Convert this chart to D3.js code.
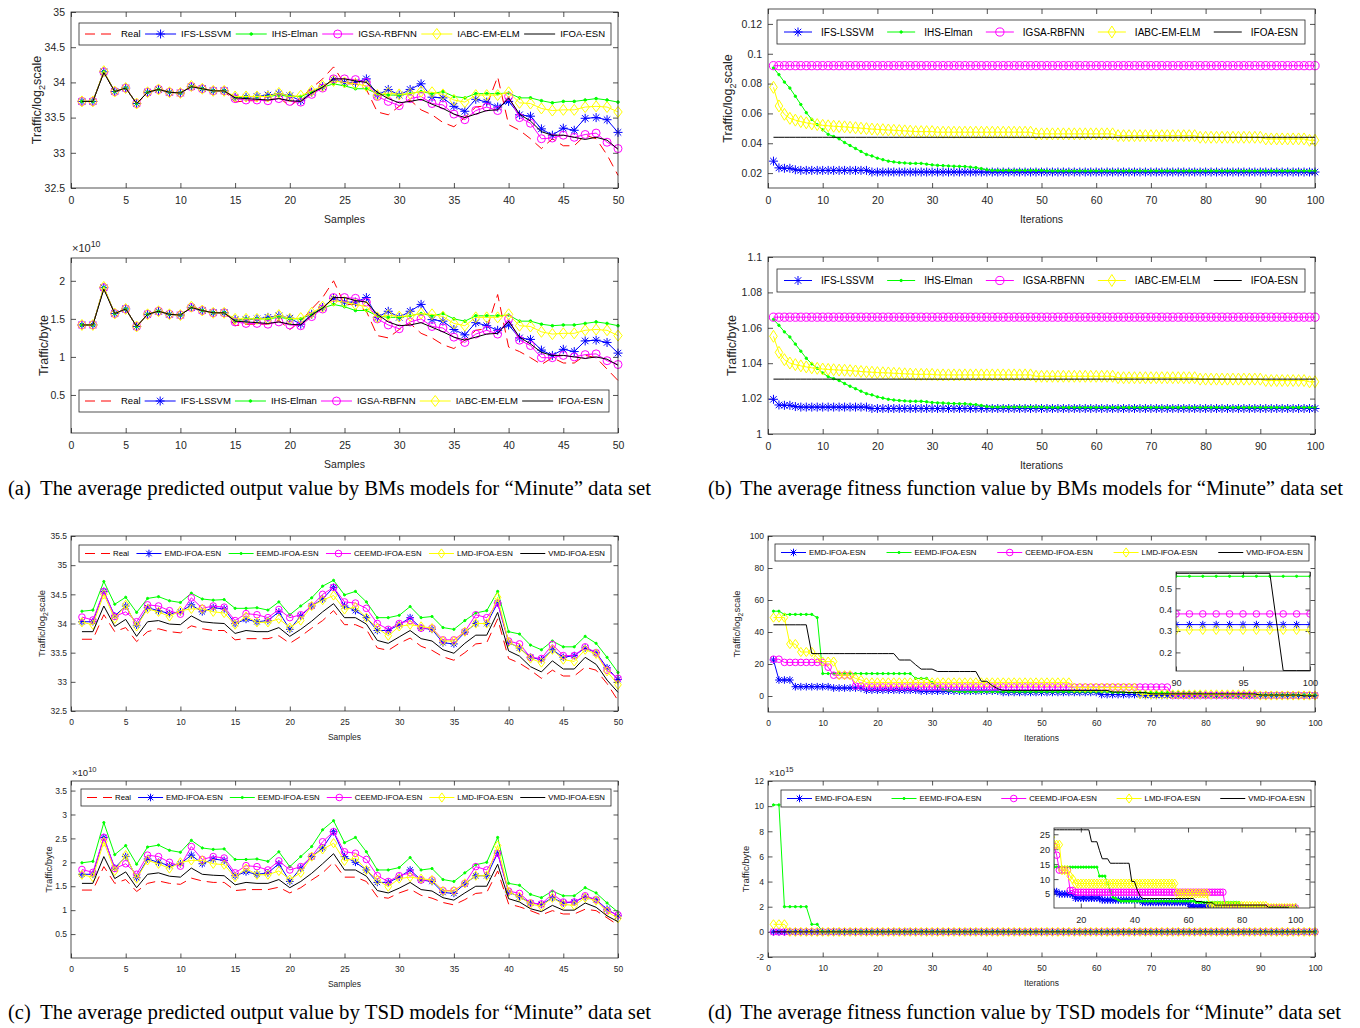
<!DOCTYPE html>
<html>
<head>
<meta charset="utf-8">
<script src="https://cdn.jsdelivr.net/npm/d3@7"></script>
<style>
  body { margin: 0; background: #fff; }
</style>
</head>
<body>
<svg id="fig" width="1360" height="1028"></svg>
<script>
// ---- data --------------------------------------------------------------
const samples = d3.range(1, 51);
const iters = d3.range(1, 101);

const ticksSamples = [0, 5, 10, 15, 20, 25, 30, 35, 40, 45, 50];
const ticksIter = [0, 10, 20, 30, 40, 50, 60, 70, 80, 90, 100];
const ticksLogA = [32.5, 33, 33.5, 34, 34.5, 35];
const ticksByteA = [0.5, 1, 1.5, 2];
const ticksFitLog = [0.02, 0.04, 0.06, 0.08, 0.1, 0.12];
const ticksFitByte = [1, 1.02, 1.04, 1.06, 1.08, 1.1];
const ticksLogC = [32.5, 33, 33.5, 34, 34.5, 35, 35.5];
const ticksByteC = [0.5, 1, 1.5, 2, 2.5, 3, 3.5];
const ticksFitLogD = [0, 20, 40, 60, 80, 100];
const ticksFitByteD = [-2, 0, 2, 4, 6, 8, 10, 12];
const ticksInsetX1 = [90, 95, 100];
const ticksInsetY1 = [0.2, 0.3, 0.4, 0.5];
const ticksInsetX2 = [20, 40, 60, 80, 100];
const ticksInsetY2 = [5, 10, 15, 20, 25];

const bmNames = ['Real', 'IFS-LSSVM', 'IHS-Elman', 'IGSA-RBFNN', 'IABC-EM-ELM', 'IFOA-ESN'];
const tsdNames = ['Real', 'EMD-IFOA-ESN', 'EEMD-IFOA-ESN', 'CEEMD-IFOA-ESN', 'LMD-IFOA-ESN', 'VMD-IFOA-ESN'];

// (a) predicted output, log2 scale
const Real_log = [33.73,33.73,34.15,33.86,33.93,33.69,33.86,33.91,33.86,33.84,33.96,33.91,33.88,33.88,33.72,33.74,33.74,33.74,33.79,33.66,33.78,33.92,34.05,34.22,33.98,33.98,33.90,33.58,33.54,33.66,33.75,33.61,33.54,33.43,33.37,33.50,33.65,33.67,34.08,33.40,33.32,33.20,33.06,33.20,33.10,33.10,33.25,33.20,32.97,32.68];
const IFS_log = [33.73,33.73,34.15,33.87,33.92,33.70,33.86,33.90,33.86,33.85,33.94,33.91,33.88,33.88,33.79,33.79,33.80,33.82,33.84,33.81,33.74,33.86,33.94,34.04,34.00,34.00,34.05,33.82,33.90,33.82,33.90,33.98,33.79,33.78,33.66,33.59,33.76,33.72,33.65,33.73,33.54,33.52,33.34,33.25,33.35,33.32,33.49,33.50,33.47,33.29];
const IHS_log = [33.73,33.73,34.15,33.87,33.92,33.70,33.86,33.90,33.86,33.85,33.94,33.91,33.88,33.88,33.78,33.80,33.80,33.80,33.82,33.80,33.80,33.86,33.93,33.98,33.95,33.91,33.91,33.84,33.82,33.82,33.84,33.87,33.84,33.87,33.80,33.78,33.84,33.84,33.84,33.85,33.78,33.78,33.74,33.71,33.73,33.73,33.75,33.77,33.75,33.72];
const IGSA_log = [33.73,33.73,34.15,33.87,33.92,33.70,33.86,33.90,33.86,33.85,33.94,33.91,33.88,33.88,33.77,33.75,33.75,33.74,33.77,33.73,33.72,33.83,33.92,34.05,34.05,34.04,34.00,33.80,33.73,33.67,33.77,33.80,33.70,33.68,33.55,33.47,33.60,33.65,33.60,33.80,33.50,33.42,33.20,33.21,33.25,33.22,33.26,33.28,33.15,33.06];
const IABC_log = [33.73,33.73,34.16,33.87,33.92,33.70,33.86,33.90,33.86,33.85,33.95,33.91,33.88,33.88,33.80,33.80,33.80,33.80,33.85,33.80,33.81,33.88,33.95,34.02,34.00,33.98,33.95,33.82,33.85,33.83,33.84,33.87,33.86,33.83,33.75,33.72,33.82,33.82,33.82,33.86,33.71,33.70,33.63,33.60,33.61,33.61,33.65,33.66,33.65,33.58];
const IFOA_log = [33.73,33.73,34.14,33.87,33.92,33.70,33.86,33.90,33.86,33.85,33.94,33.91,33.88,33.88,33.78,33.77,33.76,33.75,33.77,33.74,33.73,33.85,33.93,34.05,34.05,34.02,34.00,33.86,33.77,33.71,33.73,33.76,33.69,33.63,33.55,33.50,33.55,33.60,33.61,33.78,33.55,33.45,33.30,33.25,33.25,33.22,33.19,33.22,33.18,33.05];

// (a) predicted output, bytes (x 1e10)
const Real_byte = [1.42,1.42,1.91,1.56,1.64,1.39,1.56,1.61,1.56,1.54,1.67,1.61,1.58,1.58,1.41,1.43,1.43,1.43,1.48,1.36,1.47,1.63,1.78,2.00,1.69,1.69,1.60,1.28,1.25,1.36,1.44,1.31,1.25,1.16,1.11,1.22,1.35,1.37,1.82,1.13,1.07,0.99,0.90,0.99,0.92,0.92,1.02,0.99,0.84,0.69];
const IFS_byte = [1.42,1.42,1.91,1.57,1.63,1.40,1.56,1.60,1.56,1.55,1.65,1.61,1.58,1.58,1.49,1.49,1.50,1.52,1.54,1.51,1.43,1.56,1.65,1.77,1.72,1.72,1.78,1.52,1.60,1.52,1.60,1.69,1.49,1.47,1.36,1.29,1.45,1.41,1.35,1.42,1.25,1.23,1.09,1.02,1.10,1.07,1.21,1.22,1.19,1.05];
const IHS_byte = [1.42,1.42,1.91,1.57,1.63,1.40,1.56,1.60,1.56,1.55,1.65,1.61,1.58,1.58,1.47,1.50,1.50,1.50,1.52,1.50,1.50,1.56,1.64,1.69,1.66,1.61,1.61,1.54,1.52,1.52,1.54,1.57,1.54,1.57,1.50,1.47,1.54,1.54,1.54,1.55,1.47,1.47,1.43,1.41,1.42,1.42,1.44,1.46,1.44,1.41];
const IGSA_byte = [1.42,1.42,1.91,1.57,1.63,1.40,1.56,1.60,1.56,1.55,1.65,1.61,1.58,1.58,1.46,1.44,1.44,1.43,1.46,1.42,1.41,1.53,1.63,1.78,1.78,1.77,1.72,1.50,1.42,1.37,1.46,1.50,1.40,1.38,1.26,1.19,1.30,1.35,1.30,1.50,1.22,1.15,0.99,0.99,1.02,1.00,1.03,1.04,0.95,0.90];
const IABC_byte = [1.42,1.42,1.92,1.57,1.63,1.40,1.56,1.60,1.56,1.55,1.66,1.61,1.58,1.58,1.50,1.50,1.50,1.50,1.55,1.50,1.51,1.58,1.66,1.74,1.72,1.69,1.66,1.52,1.55,1.53,1.54,1.57,1.56,1.53,1.44,1.41,1.52,1.52,1.52,1.56,1.41,1.40,1.33,1.30,1.31,1.31,1.35,1.36,1.35,1.28];
const IFOA_byte = [1.42,1.42,1.89,1.57,1.63,1.40,1.56,1.60,1.56,1.55,1.65,1.61,1.58,1.58,1.47,1.46,1.45,1.44,1.46,1.43,1.42,1.55,1.64,1.78,1.78,1.74,1.72,1.56,1.46,1.41,1.42,1.45,1.39,1.33,1.26,1.22,1.26,1.30,1.31,1.47,1.26,1.17,1.06,1.02,1.02,1.00,0.98,1.00,0.97,0.89];

// (b) fitness, log2 scale
const IFS_fitLog = [
  0.028,0.0235,0.0232,0.0232,0.0222,0.0218,0.0218,0.0218,0.0218,0.0218,
  0.0218,0.0218,0.0218,0.0218,0.0218,0.0218,0.0218,0.0218,0.0207,0.0207,
  0.0207,0.0207,0.0207,0.0207,0.0207,0.0207,0.0207,0.0207,0.0207,0.0207,
  0.0207,0.0207,0.0207,0.0207,0.0207,0.0207,0.0207,0.0207,0.0207,0.0207,
  0.0207,0.0207,0.0207,0.0207,0.0207,0.0207,0.0207,0.0207,0.0207,0.0207,
  0.0207,0.0207,0.0207,0.0207,0.0207,0.0207,0.0207,0.0207,0.0207,0.0207,
  0.0207,0.0207,0.0207,0.0207,0.0207,0.0207,0.0207,0.0207,0.0207,0.0207,
  0.0207,0.0207,0.0207,0.0207,0.0207,0.0207,0.0207,0.0207,0.0207,0.0207,
  0.0207,0.0207,0.0207,0.0207,0.0207,0.0207,0.0207,0.0207,0.0207,0.0207,
  0.0207,0.0207,0.0207,0.0207,0.0207,0.0207,0.0207,0.0207,0.0207,0.0207];
const IHS_fitLog = [
  0.0905,0.086,0.081,0.077,0.0715,0.066,0.0605,0.056,0.0525,0.049,
  0.046,0.0445,0.043,0.0405,0.0385,0.0365,0.0345,0.0325,0.0315,0.03,
  0.029,0.028,0.0275,0.027,0.0268,0.0265,0.0265,0.0265,0.026,0.0255,
  0.0252,0.025,0.0248,0.0246,0.0245,0.0244,0.024,0.0237,0.023,0.0222,
  0.0218,0.0218,0.0218,0.0218,0.0218,0.0218,0.0218,0.0218,0.0218,0.0218,
  0.0215,0.0215,0.0215,0.0215,0.0215,0.0215,0.0215,0.0215,0.0215,0.0215,
  0.0215,0.0215,0.0215,0.0215,0.0215,0.0215,0.0215,0.0215,0.0215,0.0215,
  0.0215,0.0215,0.0215,0.0215,0.0215,0.0215,0.0215,0.0215,0.0215,0.0215,
  0.0215,0.0215,0.0215,0.0215,0.0215,0.0215,0.0215,0.0215,0.0215,0.0215,
  0.0215,0.0215,0.0215,0.0215,0.0215,0.0215,0.0215,0.0215,0.0215,0.0215];
const IGSA_fitLog = [
  0.092,0.092,0.092,0.092,0.092,0.092,0.092,0.092,0.092,0.092,
  0.092,0.092,0.092,0.092,0.092,0.092,0.092,0.092,0.092,0.092,
  0.092,0.092,0.092,0.092,0.092,0.092,0.092,0.092,0.092,0.092,
  0.092,0.092,0.092,0.092,0.092,0.092,0.092,0.092,0.092,0.092,
  0.092,0.092,0.092,0.092,0.092,0.092,0.092,0.092,0.092,0.092,
  0.092,0.092,0.092,0.092,0.092,0.092,0.092,0.092,0.092,0.092,
  0.092,0.092,0.092,0.092,0.092,0.092,0.092,0.092,0.092,0.092,
  0.092,0.092,0.092,0.092,0.092,0.092,0.092,0.092,0.092,0.092,
  0.092,0.092,0.092,0.092,0.092,0.092,0.092,0.092,0.092,0.092,
  0.092,0.092,0.092,0.092,0.092,0.092,0.092,0.092,0.092,0.092];
const IABC_fitLog = [
  0.0775,0.065,0.0594,0.0567,0.0555,0.0545,0.0537,0.053,0.0525,0.052,
  0.0517,0.0514,0.0512,0.051,0.0507,0.0504,0.0501,0.0498,0.0495,0.0493,
  0.0491,0.0489,0.0487,0.0485,0.0483,0.0481,0.0478,0.0478,0.0478,0.0478,
  0.0474,0.0474,0.0474,0.0474,0.0474,0.0474,0.0474,0.0474,0.0474,0.0474,
  0.0474,0.0474,0.0474,0.0474,0.0474,0.0474,0.0474,0.0474,0.0463,0.0463,
  0.0463,0.0463,0.0463,0.0463,0.0463,0.0463,0.0463,0.0463,0.0463,0.0463,
  0.0463,0.0463,0.0463,0.0451,0.0451,0.0451,0.0451,0.0451,0.0451,0.0451,
  0.0451,0.0451,0.0451,0.0451,0.0451,0.0451,0.0451,0.0451,0.044,0.044,
  0.044,0.044,0.044,0.044,0.044,0.044,0.044,0.044,0.044,0.044,
  0.0429,0.0429,0.0429,0.0429,0.0429,0.0429,0.0429,0.0429,0.042,0.042];
const IFOA_fitLog = [
  0.044,0.044,0.044,0.044,0.044,0.044,0.044,0.044,0.044,0.044,
  0.044,0.044,0.044,0.044,0.044,0.044,0.044,0.044,0.044,0.044,
  0.044,0.044,0.044,0.044,0.044,0.044,0.044,0.044,0.044,0.044,
  0.044,0.044,0.044,0.044,0.044,0.044,0.044,0.044,0.044,0.044,
  0.044,0.044,0.044,0.044,0.044,0.044,0.044,0.044,0.044,0.044,
  0.044,0.044,0.044,0.044,0.044,0.044,0.044,0.044,0.044,0.044,
  0.044,0.044,0.044,0.044,0.044,0.044,0.044,0.044,0.044,0.044,
  0.044,0.044,0.044,0.044,0.044,0.044,0.044,0.044,0.044,0.044,
  0.044,0.044,0.044,0.044,0.044,0.044,0.044,0.044,0.044,0.044,
  0.044,0.044,0.044,0.044,0.044,0.044,0.044,0.044,0.044,0.044];

// (b) fitness, bytes
const IFS_fitByte = [
  1.0196,1.0164,1.0162,1.0162,1.0155,1.0152,1.0152,1.0152,1.0152,1.0152,
  1.0152,1.0152,1.0152,1.0152,1.0152,1.0152,1.0152,1.0152,1.0144,1.0144,
  1.0144,1.0144,1.0144,1.0144,1.0144,1.0144,1.0144,1.0144,1.0144,1.0144,
  1.0144,1.0144,1.0144,1.0144,1.0144,1.0144,1.0144,1.0144,1.0144,1.0144,
  1.0144,1.0144,1.0144,1.0144,1.0144,1.0144,1.0144,1.0144,1.0144,1.0144,
  1.0144,1.0144,1.0144,1.0144,1.0144,1.0144,1.0144,1.0144,1.0144,1.0144,
  1.0144,1.0144,1.0144,1.0144,1.0144,1.0144,1.0144,1.0144,1.0144,1.0144,
  1.0144,1.0144,1.0144,1.0144,1.0144,1.0144,1.0144,1.0144,1.0144,1.0144,
  1.0144,1.0144,1.0144,1.0144,1.0144,1.0144,1.0144,1.0144,1.0144,1.0144,
  1.0144,1.0144,1.0144,1.0144,1.0144,1.0144,1.0144,1.0144,1.0144,1.0144];
const IHS_fitByte = [
  1.0647,1.0614,1.0577,1.0548,1.0508,1.0468,1.0428,1.0396,1.0371,1.0345,
  1.0324,1.0313,1.0302,1.0285,1.027,1.0256,1.0242,1.0228,1.0221,1.021,
  1.0203,1.0196,1.0192,1.0189,1.0187,1.0185,1.0185,1.0185,1.0182,1.0178,
  1.0176,1.0175,1.0173,1.0172,1.0171,1.0171,1.0168,1.0166,1.0161,1.0155,
  1.0152,1.0152,1.0152,1.0152,1.0152,1.0152,1.0152,1.0152,1.0152,1.0152,
  1.015,1.015,1.015,1.015,1.015,1.015,1.015,1.015,1.015,1.015,
  1.015,1.015,1.015,1.015,1.015,1.015,1.015,1.015,1.015,1.015,
  1.015,1.015,1.015,1.015,1.015,1.015,1.015,1.015,1.015,1.015,
  1.015,1.015,1.015,1.015,1.015,1.015,1.015,1.015,1.015,1.015,
  1.015,1.015,1.015,1.015,1.015,1.015,1.015,1.015,1.015,1.015];
const IGSA_fitByte = [
  1.066,1.066,1.066,1.066,1.066,1.066,1.066,1.066,1.066,1.066,
  1.066,1.066,1.066,1.066,1.066,1.066,1.066,1.066,1.066,1.066,
  1.066,1.066,1.066,1.066,1.066,1.066,1.066,1.066,1.066,1.066,
  1.066,1.066,1.066,1.066,1.066,1.066,1.066,1.066,1.066,1.066,
  1.066,1.066,1.066,1.066,1.066,1.066,1.066,1.066,1.066,1.066,
  1.066,1.066,1.066,1.066,1.066,1.066,1.066,1.066,1.066,1.066,
  1.066,1.066,1.066,1.066,1.066,1.066,1.066,1.066,1.066,1.066,
  1.066,1.066,1.066,1.066,1.066,1.066,1.066,1.066,1.066,1.066,
  1.066,1.066,1.066,1.066,1.066,1.066,1.066,1.066,1.066,1.066,
  1.066,1.066,1.066,1.066,1.066,1.066,1.066,1.066,1.066,1.066];
const IABC_fitByte = [
  1.0552,1.0461,1.042,1.0401,1.0392,1.0385,1.0379,1.0374,1.0371,1.0367,
  1.0365,1.0363,1.0361,1.036,1.0358,1.0356,1.0353,1.0351,1.0349,1.0347,
  1.0346,1.0345,1.0343,1.0342,1.034,1.0339,1.0337,1.0337,1.0337,1.0337,
  1.0334,1.0334,1.0334,1.0334,1.0334,1.0334,1.0334,1.0334,1.0334,1.0334,
  1.0334,1.0334,1.0334,1.0334,1.0334,1.0334,1.0334,1.0334,1.0326,1.0326,
  1.0326,1.0326,1.0326,1.0326,1.0326,1.0326,1.0326,1.0326,1.0326,1.0326,
  1.0326,1.0326,1.0326,1.0318,1.0318,1.0318,1.0318,1.0318,1.0318,1.0318,
  1.0318,1.0318,1.0318,1.0318,1.0318,1.0318,1.0318,1.0318,1.031,1.031,
  1.031,1.031,1.031,1.031,1.031,1.031,1.031,1.031,1.031,1.031,
  1.0302,1.0302,1.0302,1.0302,1.0302,1.0302,1.0302,1.0302,1.0295,1.0295];
const IFOA_fitByte = [
  1.031,1.031,1.031,1.031,1.031,1.031,1.031,1.031,1.031,1.031,
  1.031,1.031,1.031,1.031,1.031,1.031,1.031,1.031,1.031,1.031,
  1.031,1.031,1.031,1.031,1.031,1.031,1.031,1.031,1.031,1.031,
  1.031,1.031,1.031,1.031,1.031,1.031,1.031,1.031,1.031,1.031,
  1.031,1.031,1.031,1.031,1.031,1.031,1.031,1.031,1.031,1.031,
  1.031,1.031,1.031,1.031,1.031,1.031,1.031,1.031,1.031,1.031,
  1.031,1.031,1.031,1.031,1.031,1.031,1.031,1.031,1.031,1.031,
  1.031,1.031,1.031,1.031,1.031,1.031,1.031,1.031,1.031,1.031,
  1.031,1.031,1.031,1.031,1.031,1.031,1.031,1.031,1.031,1.031,
  1.031,1.031,1.031,1.031,1.031,1.031,1.031,1.031,1.031,1.031];

// (c) predicted output of decomposition models, log2 scale
const EMD_log = [34.03,34.03,34.55,34.13,34.30,33.97,34.27,34.22,34.17,34.20,34.32,34.20,34.27,34.25,34.00,34.07,34.03,34.05,34.20,33.90,34.13,34.30,34.42,34.62,34.30,34.22,34.10,33.88,33.88,33.98,34.10,33.92,33.90,33.67,33.65,33.85,34.00,34.00,34.35,33.68,33.58,33.42,33.38,33.55,33.42,33.45,33.58,33.50,33.24,33.04];
const EEMD_log = [34.21,34.23,34.72,34.33,34.45,34.19,34.43,34.46,34.39,34.36,34.52,34.42,34.40,34.41,34.26,34.26,34.27,34.23,34.37,34.15,34.30,34.44,34.64,34.74,34.49,34.55,34.37,34.10,34.10,34.14,34.29,34.10,34.12,33.93,33.90,34.05,34.18,34.22,34.55,33.86,33.82,33.63,33.55,33.70,33.60,33.60,33.78,33.66,33.42,33.16];
const CEEMD_log = [34.11,34.06,34.55,34.12,34.20,34.03,34.32,34.30,34.22,34.16,34.44,34.26,34.30,34.28,34.05,34.17,34.15,34.10,34.24,34.10,34.15,34.30,34.50,34.62,34.37,34.35,34.26,34.00,33.90,34.00,34.05,33.92,33.92,33.72,33.72,33.86,34.15,34.10,34.35,33.70,33.65,33.42,33.40,33.64,33.45,33.45,33.60,33.50,33.20,33.06];
const LMD_log = [34.02,33.98,34.50,34.08,34.32,33.95,34.25,34.20,34.12,34.22,34.25,34.25,34.20,34.18,33.98,34.12,34.02,34.02,34.08,33.93,34.05,34.30,34.40,34.48,34.24,34.28,34.10,33.92,33.79,33.95,33.98,33.95,33.92,33.70,33.70,33.86,34.00,34.00,34.45,33.68,33.58,33.40,33.33,33.55,33.38,33.35,33.55,33.48,33.18,32.95];
const VMD_log = [33.86,33.86,34.30,33.95,34.07,33.78,34.03,34.05,33.99,33.98,34.13,34.03,34.01,34.00,33.83,33.88,33.86,33.86,33.93,33.78,33.90,34.04,34.20,34.34,34.10,34.10,33.99,33.71,33.66,33.77,33.88,33.74,33.70,33.55,33.49,33.66,33.80,33.80,34.19,33.53,33.44,33.26,33.17,33.36,33.22,33.22,33.42,33.30,33.03,32.82];

// (c) predicted output of decomposition models, bytes (x 1e10)
const EMD_byte = [1.75,1.75,2.52,1.88,2.12,1.68,2.07,2.00,1.93,1.97,2.15,1.97,2.07,2.04,1.72,1.80,1.75,1.78,1.97,1.60,1.88,2.12,2.30,2.64,2.12,2.00,1.84,1.58,1.58,1.69,1.84,1.63,1.60,1.37,1.35,1.55,1.72,1.72,2.19,1.38,1.28,1.15,1.12,1.26,1.15,1.17,1.28,1.22,1.02,0.88];
const EEMD_byte = [1.99,2.02,2.83,2.16,2.35,1.96,2.32,2.36,2.25,2.21,2.46,2.30,2.27,2.28,2.06,2.06,2.07,2.02,2.22,1.91,2.12,2.33,2.68,2.87,2.41,2.52,2.22,1.84,1.84,1.89,2.10,1.84,1.87,1.64,1.60,1.78,1.95,2.00,2.52,1.56,1.52,1.33,1.26,1.40,1.30,1.30,1.47,1.36,1.15,0.96];
const CEEMD_byte = [1.85,1.79,2.52,1.87,1.97,1.75,2.15,2.12,2.00,1.92,2.33,2.06,2.12,2.09,1.78,1.93,1.91,1.84,2.03,1.84,1.91,2.12,2.43,2.64,2.22,2.19,2.06,1.72,1.60,1.72,1.78,1.63,1.63,1.41,1.41,1.56,1.91,1.84,2.19,1.40,1.35,1.15,1.13,1.34,1.17,1.17,1.30,1.22,0.99,0.90];
const LMD_byte = [1.74,1.69,2.43,1.82,2.15,1.66,2.04,1.97,1.87,2.00,2.04,2.04,1.97,1.95,1.69,1.87,1.74,1.74,1.82,1.64,1.78,2.12,2.27,2.40,2.03,2.09,1.84,1.63,1.49,1.66,1.69,1.66,1.63,1.40,1.40,1.56,1.72,1.72,2.35,1.38,1.28,1.13,1.08,1.26,1.12,1.10,1.26,1.20,0.97,0.83];
const VMD_byte = [1.56,1.56,2.12,1.66,1.80,1.47,1.75,1.78,1.71,1.69,1.88,1.75,1.73,1.72,1.53,1.58,1.56,1.56,1.64,1.47,1.60,1.77,1.97,2.18,1.84,1.84,1.71,1.41,1.36,1.46,1.58,1.43,1.40,1.26,1.21,1.36,1.50,1.50,1.96,1.24,1.17,1.03,0.97,1.10,1.00,1.00,1.15,1.06,0.88,0.76];

// (d) fitness of decomposition models, log2 scale (also shown in the (d) byte inset)
const EMD_fitLog = [
  22.5,10,10,10,5.8,5.8,5.8,5.8,5.8,5.8,
  5.8,5,5,5,5,5,4.8,3.6,3.6,3.6,
  3.6,3.6,3.6,3.6,3.6,3.6,3.6,3,3,3,
  3,3,3,3,3,3,3,3,3,3,
  3,3,2.2,2.2,2.2,2.2,2.2,2.2,2.2,2.2,
  2.2,2.2,2.2,2.2,2.2,2.2,2.2,2.2,2.2,2.2,
  0.9,0.9,0.9,0.9,0.9,0.9,0.9,0.9,0.33,0.33,
  0.33,0.33,0.33,0.33,0.33,0.33,0.33,0.33,0.33,0.33,
  0.33,0.33,0.33,0.33,0.33,0.33,0.33,0.33,0.33,0.33,
  0.33,0.33,0.33,0.33,0.33,0.33,0.33,0.33,0.33,0.33];
const EEMD_fitLog = [
  53,53,51,51,51,51,51,51,49,14,
  14,14,14,14,14,14,14,14,14,14,
  14,14,14,14,14,14,11,11,11,8.5,
  6,3.9,3.5,3,2.6,2.6,2.6,2.6,2.6,2.6,
  2.6,2.6,2.6,2.6,2.6,2.6,2.6,2.6,2.6,2.6,
  2.6,2.6,2.6,2.6,2.6,2.6,2.6,2.6,2.6,2.6,
  2.6,2.6,2.2,2.2,2.2,2.2,2.2,2.2,2.2,2.2,
  2.2,2.2,2.2,2.2,2.2,2.2,2.2,2.2,2.2,0.556,
  0.556,0.556,0.556,0.556,0.556,0.556,0.556,0.556,0.556,0.556,
  0.556,0.556,0.556,0.556,0.556,0.556,0.556,0.556,0.556,0.556];
const CEEMD_fitLog = [
  23,23,21,21,21,21,21,21,21,21,
  18,13,13,13,13,6.2,6.2,5.6,5.6,5.6,
  5.6,5.6,5.6,5.6,5.6,5.6,5.6,5.6,5.6,5.6,
  5.6,5.6,5.6,5.6,5.6,5.6,5.6,5.6,5.6,5.6,
  5.6,5.6,5.6,5.6,5.6,5.6,5.6,5.6,5.6,5.6,
  5.6,5.6,5.6,5.6,5.6,5.6,5.6,5.6,5.6,5.6,
  5.6,5.6,5.6,5.6,5.6,5.6,5.6,5.6,5.6,5.6,
  5.6,5.6,5.6,0.38,0.38,0.38,0.38,0.38,0.38,0.38,
  0.38,0.38,0.38,0.38,0.38,0.38,0.38,0.38,0.38,0.38,
  0.38,0.38,0.38,0.38,0.38,0.38,0.38,0.38,0.38,0.38];
const LMD_fitLog = [
  49,49,49,32.5,32.5,27.5,27.5,27.5,24,21.5,
  21.5,21.5,13,13,13,11,10,8.5,8.5,8.5,
  8.5,8.5,8.5,8.5,8.5,8.5,8.5,8.5,8.5,8.5,
  8.5,8.5,8.5,8.5,8.5,8.5,8.5,8.5,8.5,8.5,
  8.5,8.5,8.5,8.5,8.5,8.5,8.5,8.5,8.5,8.5,
  8.5,8.5,8.5,8.5,8.5,5.2,5.2,5.2,5.2,5.2,
  5.2,5.2,5.2,5.2,5.2,5.2,5.2,1,1,1,
  1,1,1,1,1,1,1,1,1,1,
  1,1,1,1,1,1,1,1,1,0.305,
  0.305,0.305,0.305,0.305,0.305,0.305,0.305,0.305,0.305,0.305];
const VMD_fitLog = [
  44.5,44.5,44.5,44.5,44.5,44.5,44.5,26.5,26.5,26.5,
  26.5,26.5,26.5,26.5,26.5,26.5,26.5,26.5,26.5,26.5,
  26.5,26.5,26.5,22.5,22.5,22.5,19.5,16.8,16.8,16.8,
  15.3,15.3,15.3,15.3,15.3,15.3,15.3,15.3,9.2,9.2,
  6.5,4.5,3.5,3.5,3.5,3.5,3.5,3.5,3.5,3.5,
  3.5,3.5,3.5,3.5,3.5,3.5,3.5,3.5,3.5,3.5,
  3.5,3.5,2.5,2.5,2.5,2.1,2.1,2.1,2.1,1.3,
  1.3,1.3,1.3,1.3,1.3,1.3,1.3,1.3,1.3,1.3,
  1.3,1.3,1.3,1.3,1.3,1.3,1.3,1.3,1.3,0.57,
  0.57,0.57,0.57,0.57,0.57,0.57,0.57,0.115,0.115,0.115];

// (d) fitness of decomposition models, bytes (x 1e15)
const EMD_fitByte = [
  0,0,0,0,0,0,0,0,0,0, 0,0,0,0,0,0,0,0,0,0, 0,0,0,0,0,0,0,0,0,0, 0,0,0,0,0,0,0,0,0,0, 0,0,0,0,0,0,0,0,0,0,
  0,0,0,0,0,0,0,0,0,0, 0,0,0,0,0,0,0,0,0,0, 0,0,0,0,0,0,0,0,0,0, 0,0,0,0,0,0,0,0,0,0, 0,0,0,0,0,0,0,0,0,0];
const EEMD_fitByte = [
  10.1,10.1,2,2,2,2,2,0.6,0.6,0, 0,0,0,0,0,0,0,0,0,0, 0,0,0,0,0,0,0,0,0,0, 0,0,0,0,0,0,0,0,0,0, 0,0,0,0,0,0,0,0,0,0,
  0,0,0,0,0,0,0,0,0,0, 0,0,0,0,0,0,0,0,0,0, 0,0,0,0,0,0,0,0,0,0, 0,0,0,0,0,0,0,0,0,0, 0,0,0,0,0,0,0,0,0,0];
const CEEMD_fitByte = [
  0,0,0,0,0,0,0,0,0,0, 0,0,0,0,0,0,0,0,0,0, 0,0,0,0,0,0,0,0,0,0, 0,0,0,0,0,0,0,0,0,0, 0,0,0,0,0,0,0,0,0,0,
  0,0,0,0,0,0,0,0,0,0, 0,0,0,0,0,0,0,0,0,0, 0,0,0,0,0,0,0,0,0,0, 0,0,0,0,0,0,0,0,0,0, 0,0,0,0,0,0,0,0,0,0];
const LMD_fitByte = [
  0.6,0.6,0.6,0,0,0,0,0,0,0, 0,0,0,0,0,0,0,0,0,0, 0,0,0,0,0,0,0,0,0,0, 0,0,0,0,0,0,0,0,0,0, 0,0,0,0,0,0,0,0,0,0,
  0,0,0,0,0,0,0,0,0,0, 0,0,0,0,0,0,0,0,0,0, 0,0,0,0,0,0,0,0,0,0, 0,0,0,0,0,0,0,0,0,0, 0,0,0,0,0,0,0,0,0,0];
const VMD_fitByte = [
  0,0,0,0,0,0,0,0,0,0, 0,0,0,0,0,0,0,0,0,0, 0,0,0,0,0,0,0,0,0,0, 0,0,0,0,0,0,0,0,0,0, 0,0,0,0,0,0,0,0,0,0,
  0,0,0,0,0,0,0,0,0,0, 0,0,0,0,0,0,0,0,0,0, 0,0,0,0,0,0,0,0,0,0, 0,0,0,0,0,0,0,0,0,0, 0,0,0,0,0,0,0,0,0,0];

// ---- drawing -----------------------------------------------------------
const FONT = '"Liberation Sans", Arial, Helvetica, sans-serif';
const AX = '#262626';
const svg = d3.select('#fig');
const defs = svg.append('defs');
let clipCount = 0;

const look = [
  { color: '#ff0000', dash: '10,6', marker: null },
  { color: '#0000ff', marker: 'star' },
  { color: '#00ff00', marker: 'dot' },
  { color: '#ff00ff', marker: 'circle' },
  { color: '#ffff00', marker: 'diamond' },
  { color: '#000000', marker: null }
];

function withLook(names, arrays, offset) {
  return arrays.map((v, i) => Object.assign({ name: names[i + offset], values: v }, look[i + offset]));
}

function shape(type, sz) {
  if (type === 'star') {
    const s = sz.star, k = s * 0.72;
    return `M${-s},0L${s},0M0,${-s}L0,${s}M${-k},${-k}L${k},${k}M${-k},${k}L${k},${-k}`;
  }
  if (type === 'diamond') {
    return `M0,${-sz.dh}L${sz.dw},0L0,${sz.dh}L${-sz.dw},0Z`;
  }
  const r = type === 'dot' ? sz.dot : sz.r;
  return `M${r},0A${r},${r} 0 1,1 ${-r},0A${r},${r} 0 1,1 ${r},0Z`;
}

function markerSel(g, s, pts, sz) {
  g.append('g').selectAll('path').data(pts).join('path')
    .attr('transform', d => `translate(${d[0]},${d[1]})`)
    .attr('d', shape(s.marker, sz))
    .attr('fill', s.marker === 'dot' ? s.color : 'none')
    .attr('stroke', s.color)
    .attr('stroke-width', 1);
}

function drawPanel(p) {
  const g = svg.append('g');
  const x = d3.scaleLinear().domain(p.xDomain).range([p.left, p.right]);
  const y = d3.scaleLinear().domain(p.yDomain).range([p.bottom, p.top]);
  const w = p.right - p.left, h = p.bottom - p.top;

  g.append('rect').attr('x', p.left).attr('y', p.top).attr('width', w).attr('height', h).attr('fill', '#fff');

  const tl = p.tickLen;
  const fmt = d => String(d);
  const axes = [
    g.append('g').attr('transform', `translate(0,${p.bottom})`)
      .call(d3.axisBottom(x).tickValues(p.xTicks).tickSizeInner(-tl).tickSizeOuter(0).tickPadding(p.xPad).tickFormat(fmt)),
    g.append('g').attr('transform', `translate(0,${p.top})`)
      .call(d3.axisTop(x).tickValues(p.xTicks).tickSizeInner(-tl).tickSizeOuter(0).tickFormat('')),
    g.append('g').attr('transform', `translate(${p.left},0)`)
      .call(d3.axisLeft(y).tickValues(p.yTicks).tickSizeInner(-tl).tickSizeOuter(0).tickPadding(p.yPad).tickFormat(fmt)),
    g.append('g').attr('transform', `translate(${p.right},0)`)
      .call(d3.axisRight(y).tickValues(p.yTicks).tickSizeInner(-tl).tickSizeOuter(0).tickFormat(''))
  ];
  axes.forEach(a => {
    a.attr('font-family', FONT).attr('font-size', p.fs);
    a.select('.domain').remove();
    a.selectAll('.tick line').attr('stroke', AX).attr('stroke-width', 0.8);
    a.selectAll('.tick text').attr('fill', AX);
  });

  const sg = g.append('g');
  if (p.clip) {
    const id = 'clip' + (clipCount++);
    defs.append('clipPath').attr('id', id).append('rect')
      .attr('x', p.left).attr('y', p.top).attr('width', w).attr('height', h);
    sg.attr('clip-path', `url(#${id})`);
  }
  const line = d3.line().x((d, i) => x(p.xs[i])).y(d => y(d));
  p.series.forEach(s => {
    sg.append('path').datum(s.values).attr('d', line)
      .attr('fill', 'none').attr('stroke', s.color).attr('stroke-width', 1)
      .attr('stroke-dasharray', s.dash || null);
    if (s.marker) markerSel(sg, s, s.values.map((v, i) => [x(p.xs[i]), y(v)]), p.msz);
  });

  g.append('rect').attr('x', p.left).attr('y', p.top).attr('width', w).attr('height', h)
    .attr('fill', 'none').attr('stroke', AX).attr('stroke-width', 0.8);

  if (p.xlabel) {
    g.append('text').attr('x', (p.left + p.right) / 2).attr('y', p.bottom + p.xlabDy)
      .attr('text-anchor', 'middle').attr('font-family', FONT).attr('font-size', p.labFs)
      .attr('fill', AX).text(p.xlabel);
  }
  if (p.ylabel) {
    const t = g.append('text')
      .attr('transform', `translate(${p.ylabX},${(p.top + p.bottom) / 2}) rotate(-90)`)
      .attr('text-anchor', 'middle').attr('font-family', FONT).attr('font-size', p.ylabFs)
      .attr('fill', AX);
    if (p.ylabel === 'log2') {
      t.append('tspan').text('Traffic/log');
      t.append('tspan').attr('font-size', p.ylabFs * 0.72).attr('dy', p.ylabFs * 0.3).text('2');
      t.append('tspan').attr('dy', -p.ylabFs * 0.3).text('scale');
    } else {
      t.text(p.ylabel);
    }
  }
  if (p.exponent) {
    const t = g.append('text').attr('x', p.left + 1).attr('y', p.top - p.expDy)
      .attr('font-family', FONT).attr('font-size', p.expFs).attr('fill', AX);
    t.append('tspan').text('\u00d710');
    t.append('tspan').attr('font-size', p.expFs * 0.8).attr('dy', -p.expFs * 0.45).text(p.exponent);
  }
  if (p.legend) drawLegend(g, p.legend, p.series, p.msz);
  if (p.inset) drawPanel(p.inset);
}

function drawLegend(g, L, series, sz) {
  const lg = g.append('g');
  lg.append('rect').attr('x', L.x).attr('y', L.y).attr('width', L.w).attr('height', L.h)
    .attr('fill', '#fff').attr('stroke', AX).attr('stroke-width', 0.8);
  const cy = L.y + L.h / 2;
  const items = series.map(s => {
    const t = lg.append('text').attr('font-family', FONT).attr('font-size', L.fs)
      .attr('fill', '#000').attr('y', cy).attr('dy', '0.35em').text(s.name);
    return { s, t, tw: t.node().getComputedTextLength() };
  });
  const used = d3.sum(items, d => L.sample + L.gap + d.tw);
  const space = (L.w - 2 * L.pad - used) / (items.length - 1);
  let cx = L.x + L.pad;
  items.forEach(it => {
    lg.append('line').attr('x1', cx).attr('x2', cx + L.sample).attr('y1', cy).attr('y2', cy)
      .attr('stroke', it.s.color).attr('stroke-width', 1).attr('stroke-dasharray', it.s.dash || null);
    if (it.s.marker) markerSel(lg, it.s, [[cx + L.sample / 2, cy]], sz);
    it.t.attr('x', cx + L.sample + L.gap);
    cx += L.sample + L.gap + it.tw + space;
  });
}

const bigSz = { star: 4.5, r: 4, dw: 4.2, dh: 5.5, dot: 1.3 };
const fitSz = { star: 4.5, r: 4.1, dw: 3.8, dh: 6, dot: 1.2 };
const smallSz = { star: 3.8, r: 3.3, dw: 3.3, dh: 4.6, dot: 1.1 };

const big = { tickLen: 5, fs: 10.5, xPad: 9, yPad: 6, labFs: 10.5, ylabFs: 12.5, xlabDy: 35, expFs: 11, expDy: 6 };
const small = { tickLen: 4.5, fs: 8.5, xPad: 8, yPad: 4, labFs: 8.5, ylabFs: 9.5, xlabDy: 29, expFs: 9.5, expDy: 5 };
const bigLeg = { fs: 9.5, sample: 31, gap: 5, pad: 6 };
const fitLeg = { fs: 10, sample: 28, gap: 9, pad: 7 };
const smallLeg = { fs: 7.8, sample: 25, gap: 3, pad: 6 };
const insetFont = { fs: 9.2 };

// (a) top
drawPanel(Object.assign({}, big, {
  left: 71, right: 618, top: 12, bottom: 188, xDomain: [0, 50], yDomain: [32.5, 35],
  xTicks: ticksSamples, yTicks: ticksLogA, xs: samples, msz: bigSz,
  xlabel: 'Samples', ylabel: 'log2', ylabX: 41,
  series: withLook(bmNames, [Real_log, IFS_log, IHS_log, IGSA_log, IABC_log, IFOA_log], 0),
  legend: Object.assign({ x: 79, y: 23, w: 532, h: 22 }, bigLeg)
}));
// (a) bottom
drawPanel(Object.assign({}, big, {
  left: 71, right: 618, top: 258, bottom: 433, xDomain: [0, 50], yDomain: [0, 2.3],
  xTicks: ticksSamples, yTicks: ticksByteA, xs: samples, msz: bigSz,
  xlabel: 'Samples', ylabel: 'Traffic/byte', ylabX: 48, exponent: '10',
  series: withLook(bmNames, [Real_byte, IFS_byte, IHS_byte, IGSA_byte, IABC_byte, IFOA_byte], 0),
  legend: Object.assign({ x: 79, y: 390, w: 530, h: 22 }, bigLeg)
}));
// (b) top
drawPanel(Object.assign({}, big, {
  left: 768, right: 1315, top: 9, bottom: 188, xDomain: [0, 100], yDomain: [0.01, 0.13],
  xTicks: ticksIter, yTicks: ticksFitLog, xs: iters, msz: fitSz,
  xlabel: 'Iterations', ylabel: 'log2', ylabX: 732,
  series: withLook(bmNames, [IFS_fitLog, IHS_fitLog, IGSA_fitLog, IABC_fitLog, IFOA_fitLog], 1),
  legend: Object.assign({ x: 777, y: 20, w: 528, h: 24 }, fitLeg)
}));
// (b) bottom
drawPanel(Object.assign({}, big, {
  left: 768, right: 1315, top: 257, bottom: 434, xDomain: [0, 100], yDomain: [1, 1.1],
  xTicks: ticksIter, yTicks: ticksFitByte, xs: iters, msz: fitSz,
  xlabel: 'Iterations', ylabel: 'Traffic/byte', ylabX: 736,
  series: withLook(bmNames, [IFS_fitByte, IHS_fitByte, IGSA_fitByte, IABC_fitByte, IFOA_fitByte], 1),
  legend: Object.assign({ x: 777, y: 269, w: 528, h: 23 }, fitLeg)
}));
// (c) top
drawPanel(Object.assign({}, small, {
  left: 71, right: 618, top: 536, bottom: 711, xDomain: [0, 50], yDomain: [32.5, 35.5],
  xTicks: ticksSamples, yTicks: ticksLogC, xs: samples, msz: smallSz,
  xlabel: 'Samples', ylabel: 'log2', ylabX: 45,
  series: withLook(tsdNames, [Real_log, EMD_log, EEMD_log, CEEMD_log, LMD_log, VMD_log], 0),
  legend: Object.assign({ x: 79, y: 545, w: 532, h: 17 }, smallLeg)
}));
// (c) bottom
drawPanel(Object.assign({}, small, {
  left: 71, right: 618, top: 781, bottom: 958, xDomain: [0, 50], yDomain: [0, 3.7],
  xTicks: ticksSamples, yTicks: ticksByteC, xs: samples, msz: smallSz,
  xlabel: 'Samples', ylabel: 'Traffic/byte', ylabX: 52, exponent: '10',
  series: withLook(tsdNames, [Real_byte, EMD_byte, EEMD_byte, CEEMD_byte, LMD_byte, VMD_byte], 0),
  legend: Object.assign({ x: 81, y: 789, w: 530, h: 17 }, smallLeg)
}));
// (d) top, with zoomed inset of the last ten iterations
drawPanel(Object.assign({}, small, {
  left: 768, right: 1315, top: 536, bottom: 712, xDomain: [0, 100], yDomain: [-10, 100],
  xTicks: ticksIter, yTicks: ticksFitLogD, xs: iters, msz: smallSz,
  xlabel: 'Iterations', ylabel: 'log2', ylabX: 740,
  series: withLook(tsdNames, [EMD_fitLog, EEMD_fitLog, CEEMD_fitLog, LMD_fitLog, VMD_fitLog], 1),
  legend: Object.assign({ x: 775, y: 544, w: 534, h: 17 }, smallLeg),
  inset: Object.assign({}, small, insetFont, {
    left: 1176, right: 1310, top: 572, bottom: 671, xDomain: [90, 100], yDomain: [0.113, 0.576],
    xTicks: ticksInsetX1, yTicks: ticksInsetY1, xs: iters, msz: smallSz, clip: true,
    series: withLook(tsdNames, [EMD_fitLog, EEMD_fitLog, CEEMD_fitLog, LMD_fitLog, VMD_fitLog], 1)
  })
}));
// (d) bottom, with zoomed inset after iteration 10
drawPanel(Object.assign({}, small, {
  left: 768, right: 1315, top: 781, bottom: 957, xDomain: [0, 100], yDomain: [-2, 12],
  xTicks: ticksIter, yTicks: ticksFitByteD, xs: iters, msz: smallSz,
  xlabel: 'Iterations', ylabel: 'Traffic/byte', ylabX: 749, exponent: '15',
  series: withLook(tsdNames, [EMD_fitByte, EEMD_fitByte, CEEMD_fitByte, LMD_fitByte, VMD_fitByte], 1),
  legend: Object.assign({ x: 781, y: 790, w: 530, h: 17 }, smallLeg),
  inset: Object.assign({}, small, insetFont, {
    left: 1054, right: 1310, top: 828, bottom: 908, xDomain: [10, 105.5], yDomain: [0.33, 27.1],
    xTicks: ticksInsetX2, yTicks: ticksInsetY2, xs: iters, msz: smallSz, clip: true,
    series: withLook(tsdNames, [EMD_fitLog, EEMD_fitLog, CEEMD_fitLog, LMD_fitLog, VMD_fitLog], 1)
  })
}));

// captions
const captions = [
  { tag: '(a)', text: 'The average predicted output value by BMs models for \u201cMinute\u201d data set', x: 8, y: 495, len: 611 },
  { tag: '(b)', text: 'The average fitness function value by BMs models for \u201cMinute\u201d data set', x: 708, y: 495, len: 603 },
  { tag: '(c)', text: 'The average predicted output value by TSD models for \u201cMinute\u201d data set', x: 8, y: 1019, len: 611 },
  { tag: '(d)', text: 'The average fitness function value by TSD models for \u201cMinute\u201d data set', x: 708, y: 1019, len: 601 }
];
captions.forEach(c => {
  const t = svg.append('text').attr('y', c.y).attr('font-family', '"Liberation Serif", "Times New Roman", serif')
    .attr('font-size', 20.5).attr('fill', '#000');
  t.append('tspan').attr('x', c.x).text(c.tag);
  t.append('tspan').attr('x', c.x + 32).attr('textLength', c.len).attr('lengthAdjust', 'spacingAndGlyphs').text(c.text);
});
</script>
</body>
</html>
